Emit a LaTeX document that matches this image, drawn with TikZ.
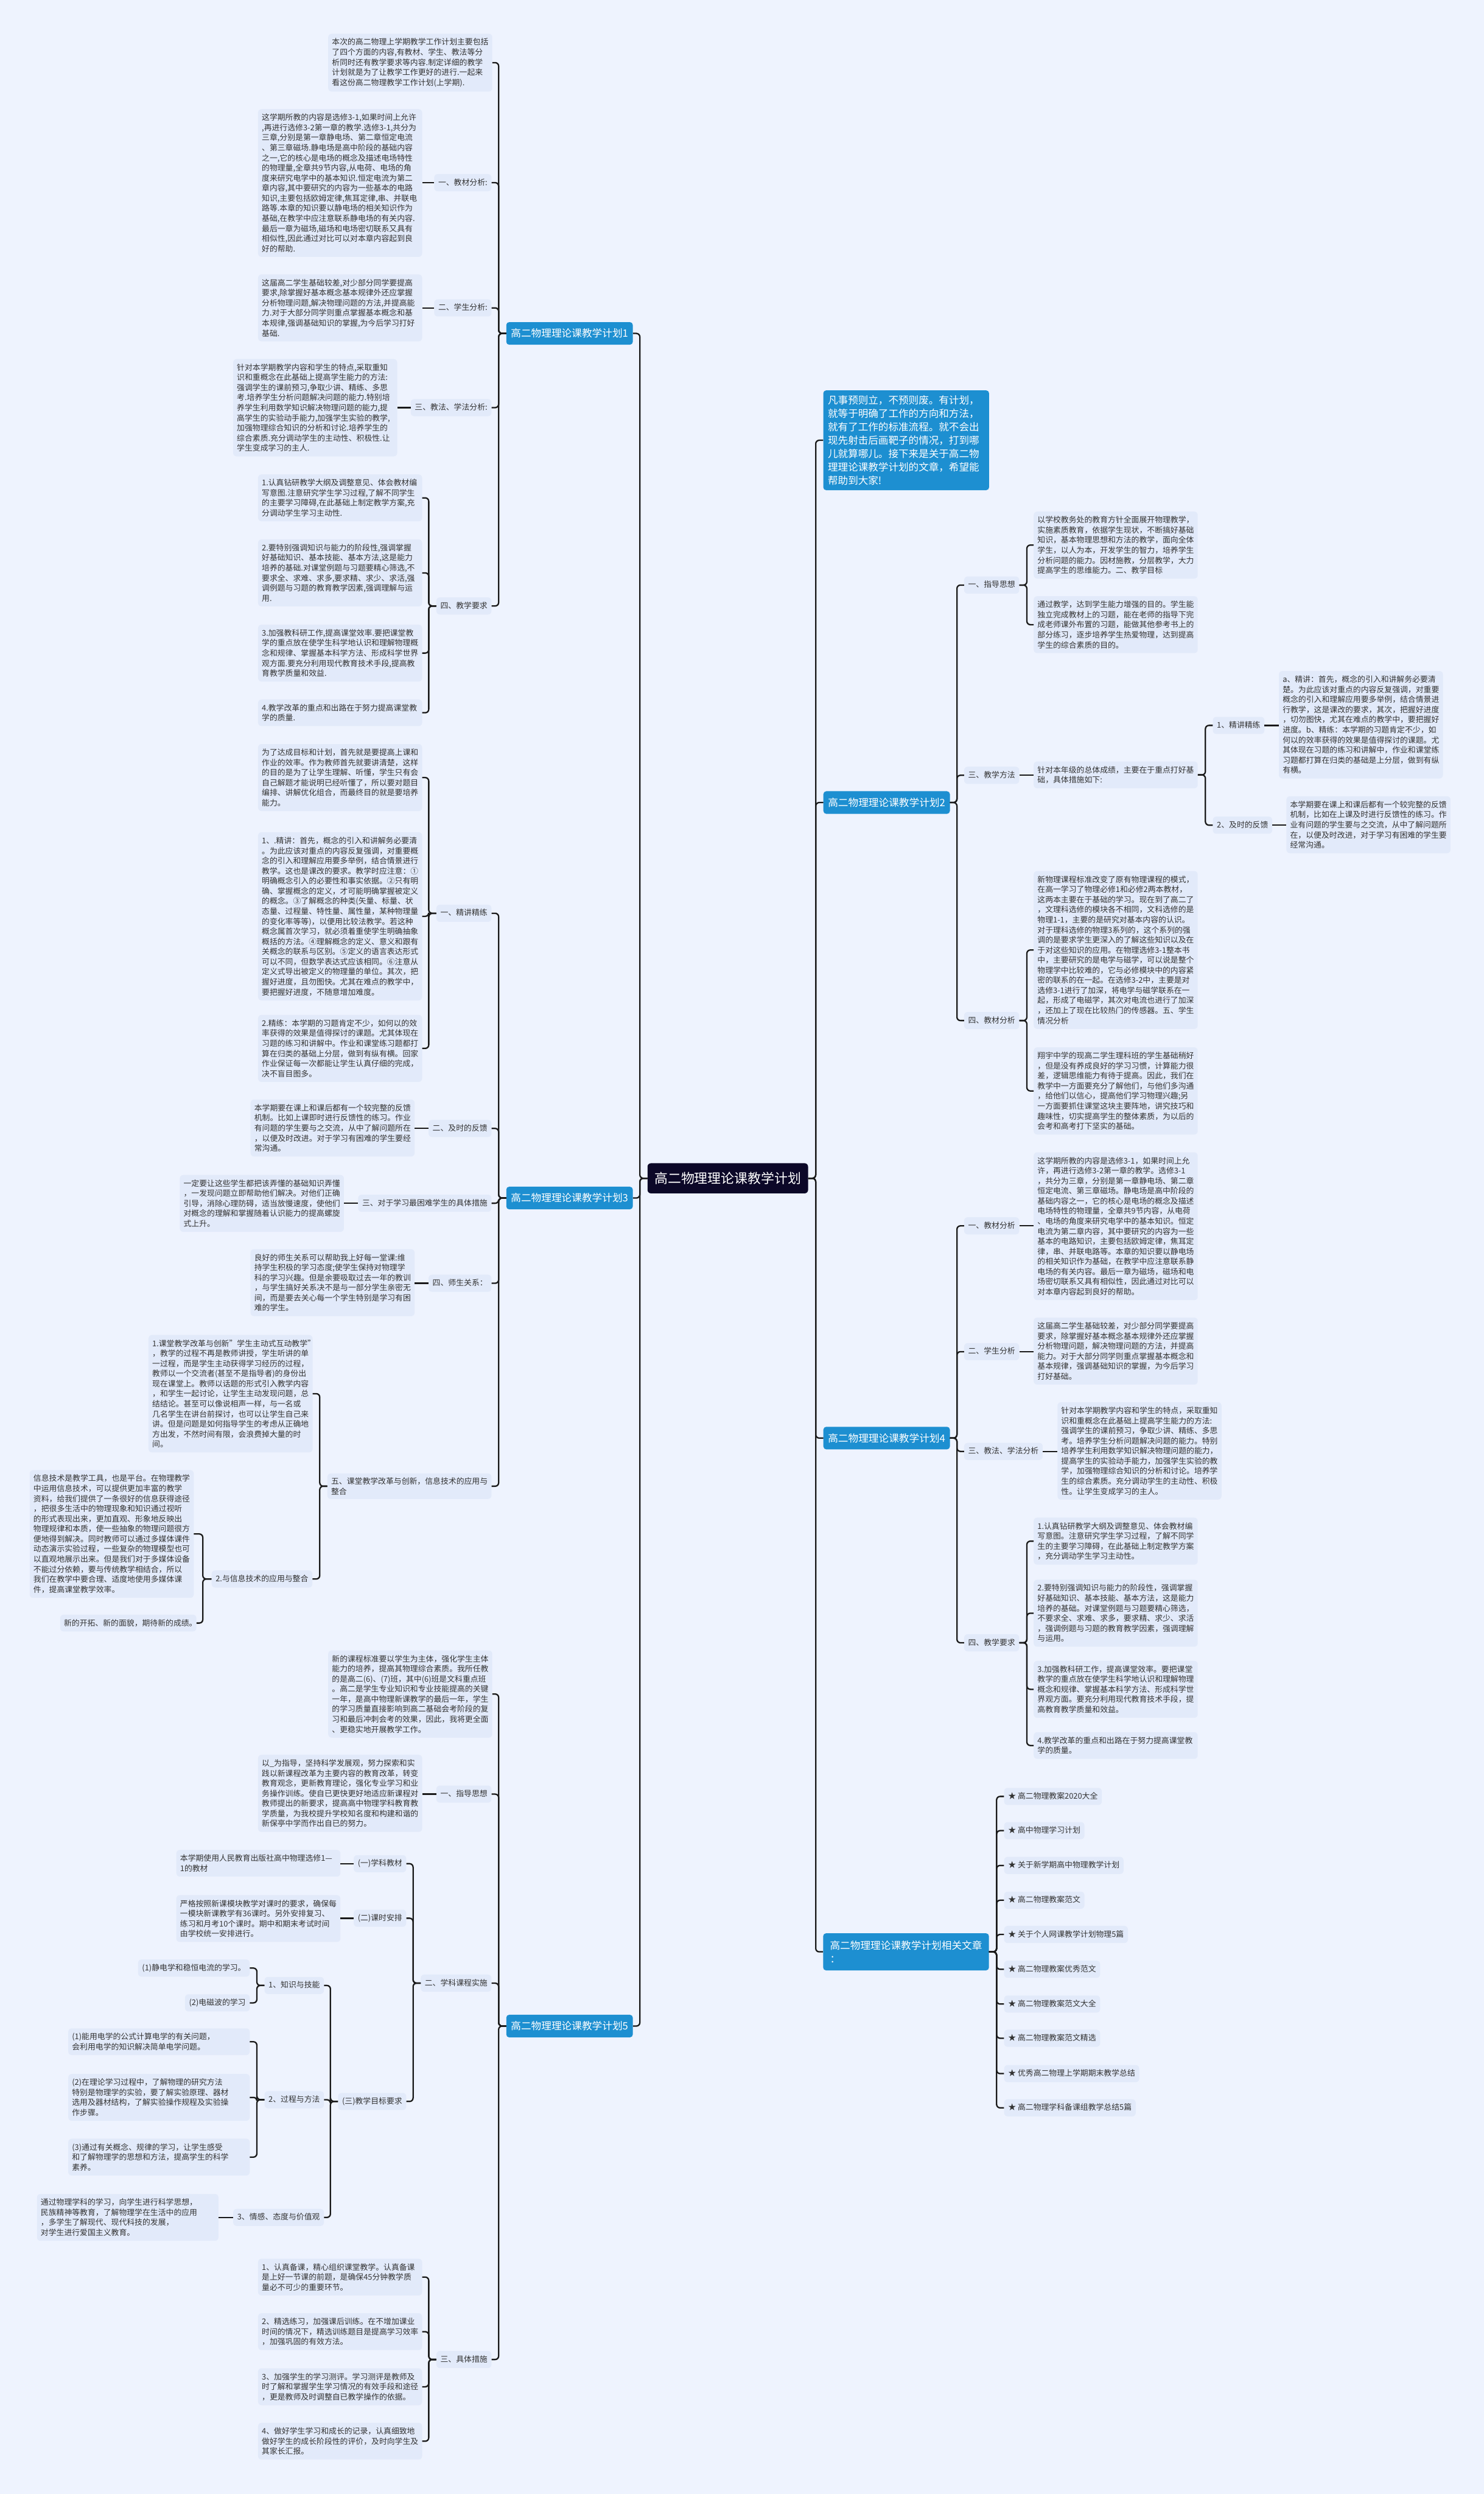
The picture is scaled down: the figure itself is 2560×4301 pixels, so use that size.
\documentclass[tikz,border=0pt]{standalone}
\usepackage{fontspec}
\setmainfont{Noto Sans CJK SC}
\definecolor{bgc}{HTML}{EEF3FE}
\definecolor{boxc}{HTML}{E2EAFA}
\definecolor{mainc}{HTML}{1D8FD1}
\definecolor{rootc}{HTML}{0C0828}
\definecolor{txtc}{HTML}{333333}
\definecolor{linec}{HTML}{1A1A1A}
\newcommand\myfs{\fontsize{13.5pt}{17.4pt}\selectfont}
\tikzset{
  blk/.style={fill=boxc, rounded corners=6pt, inner xsep=6.5pt, inner ysep=8pt, align=left, text=txtc, font=\myfs, anchor=north west, text width=270pt},
  lab/.style={fill=boxc, rounded corners=6pt, inner xsep=7pt, inner ysep=8pt, text=txtc, font=\myfs, text height=11pt, text depth=2.5pt},
  mainn/.style={fill=mainc, rounded corners=5pt, text=white, font=\fontsize{17.5pt}{23pt}\selectfont, inner xsep=8pt, inner ysep=4pt, minimum height=39pt, minimum width=217pt},
  rootn/.style={fill=rootc, rounded corners=6pt, text=white, font=\fontsize{23pt}{28pt}\selectfont, minimum width=277pt, minimum height=52pt, inner sep=4pt},
  conn/.style={draw=linec, line width=2.4pt, rounded corners=6pt},
}
\begin{document}
\begin{tikzpicture}[x=1pt,y=-1pt]
\fill[bgc] (0,0) rectangle (2560,4301);
\useasboundingbox (0,0) rectangle (2560,4301);

% ---------- root ----------
\node[rootn] (root) at (1255.5,2032) {高二物理理论课教学计划};

% ---------- main nodes ----------
\node[mainn] (p1) at (982.5,575) {高二物理理论课教学计划1};
\node[mainn] (p3) at (982.5,2066) {高二物理理论课教学计划3};
\node[mainn] (p5) at (982.5,3494) {高二物理理论课教学计划5};
\node[fill=mainc, rounded corners=5pt, text=white, font=\fontsize{17.4pt}{23pt}\selectfont, inner xsep=8pt, inner ysep=9pt, align=left, text width=270pt, anchor=north west] (intro) at (1420,673) {凡事预则立，不预则废。有计划，\\就等于明确了工作的方向和方法，\\就有了工作的标准流程。就不会出\\现先射击后画靶子的情况，打到哪\\儿就算哪儿。接下来是关于高二物\\理理论课教学计划的文章，希望能\\帮助到大家!};
\node[mainn] (p2) at (1529.5,1384) {高二物理理论课教学计划2};
\node[mainn] (p4) at (1529.5,2480) {高二物理理论课教学计划4};
\node[mainn, align=left, minimum width=286pt, minimum height=64pt] (rel) at (1563,3366) {高二物理理论课教学计划相关文章\\：};

\foreach \c in {p1,p3,p5} \draw[conn] (root.west) -- ++(-13,0) |- (\c.east);
\foreach \c in {intro,p2,p4,rel} \draw[conn] (root.east) -- ++(13,0) |- (\c.west);

% ================= PLAN 1 =================
\node[blk] (t1) at (566,58) {本次的高二物理上学期教学工作计划主要包括\\了四个方面的内容,有教材、学生、教法等分\\析同时还有教学要求等内容.制定详细的教学\\计划就是为了让教学工作更好的进行.一起来\\看这份高二物理教学工作计划(上学期).};
\node[lab, anchor=east] (l11) at (848,315) {一、教材分析:};
\node[lab, anchor=east] (l12) at (848,531) {二、学生分析:};
\node[lab, anchor=east] (l13) at (848,703) {三、教法、学法分析:};
\node[lab, anchor=east] (l14) at (848,1045) {四、教学要求};
\foreach \c in {t1,l11,l12,l13,l14} \draw[conn] (p1.west) -- ++(-13,0) |- (\c.east);

\node[blk] (b11) at (445,188) {这学期所教的内容是选修3-1,如果时间上允许\\,再进行选修3-2第一章的教学.选修3-1,共分为\\三章,分别是第一章静电场、第二章恒定电流\\、第三章磁场.静电场是高中阶段的基础内容\\之一,它的核心是电场的概念及描述电场特性\\的物理量,全章共9节内容,从电荷、电场的角\\度来研究电学中的基本知识.恒定电流为第二\\章内容,其中要研究的内容为一些基本的电路\\知识,主要包括欧姆定律,焦耳定律,串、并联电\\路等.本章的知识要以静电场的相关知识作为\\基础,在教学中应注意联系静电场的有关内容.\\最后一章为磁场,磁场和电场密切联系又具有\\相似性,因此通过对比可以对本章内容起到良\\好的帮助.};
\node[blk] (b12) at (445,473) {这届高二学生基础较差,对少部分同学要提高\\要求,除掌握好基本概念基本规律外还应掌握\\分析物理问题,解决物理问题的方法,并提高能\\力.对于大部分同学则重点掌握基本概念和基\\本规律,强调基础知识的掌握,为今后学习打好\\基础.};
\node[blk] (b13) at (402,619) {针对本学期教学内容和学生的特点,采取重知\\识和重概念在此基础上提高学生能力的方法:\\强调学生的课前预习,争取少讲、精练、多思\\考.培养学生分析问题解决问题的能力.特别培\\养学生利用数学知识解决物理问题的能力,提\\高学生的实验动手能力,加强学生实验的教学,\\加强物理综合知识的分析和讨论.培养学生的\\综合素质.充分调动学生的主动性、积极性.让\\学生变成学习的主人.};
\draw[conn] (l11.west) -- (b11.east |- l11.west);
\draw[conn] (l12.west) -- (b12.east |- l12.west);
\draw[conn] (l13.west) -- (b13.east |- l13.west);

\node[blk] (b141) at (445,818) {1.认真钻研教学大纲及调整意见、体会教材编\\写意图.注意研究学生学习过程,了解不同学生\\的主要学习障碍,在此基础上制定教学方案,充\\分调动学生学习主动性.};
\node[blk] (b142) at (445,930) {2.要特别强调知识与能力的阶段性,强调掌握\\好基础知识、基本技能、基本方法,这是能力\\培养的基础.对课堂例题与习题要精心筛选,不\\要求全、求难、求多,要求精、求少、求活,强\\调例题与习题的教育教学因素,强调理解与运\\用.};
\node[blk] (b143) at (445,1077) {3.加强教科研工作,提高课堂效率.要把课堂教\\学的重点放在使学生科学地认识和理解物理概\\念和规律、掌握基本科学方法、形成科学世界\\观方面.要充分利用现代教育技术手段,提高教\\育教学质量和效益.};
\node[blk] (b144) at (445,1206) {4.教学改革的重点和出路在于努力提高课堂教\\学的质量.};
\foreach \c in {b141,b142,b143,b144} \draw[conn] (l14.west) -- ++(-13,0) |- (\c.east);

% ================= PLAN 3 =================
\node[lab, anchor=east] (l31) at (848,1575) {一、精讲精练};
\node[lab, anchor=east] (l32) at (848,1946) {二、及时的反馈};
\node[lab, anchor=east] (l33) at (848,2075) {三、对于学习最困难学生的具体措施};
\node[lab, anchor=east] (l34) at (848,2213) {四、师生关系：};
\node[fill=boxc, rounded corners=6pt, inner xsep=6.5pt, inner ysep=7pt, text=txtc, font=\myfs, align=left, text width=270pt, anchor=east] (l35) at (848,2563) {五、课堂教学改革与创新，信息技术的应用与\\整合};
\foreach \c in {l31,l32,l33,l34,l35} \draw[conn] (p3.west) -- ++(-13,0) |- (\c.east);

\node[blk] (b311) at (445,1283) {为了达成目标和计划，首先就是要提高上课和\\作业的效率。作为教师首先就要讲清楚，这样\\的目的是为了让学生理解、听懂，学生只有会\\自己解题才能说明已经听懂了，所以要对题目\\编排、讲解优化组合，而最终目的就是要培养\\能力。};
\node[blk] (b312) at (445,1435) {1、.精讲：首先，概念的引入和讲解务必要清\\。为此应该对重点的内容反复强调，对重要概\\念的引入和理解应用要多举例，结合情景进行\\教学。这也是课改的要求。教学时应注意：①\\明确概念引入的必要性和事实依据。②只有明\\确、掌握概念的定义，才可能明确掌握被定义\\的概念。③了解概念的种类(矢量、标量、状\\态量、过程量、特性量、属性量，某种物理量\\的变化率等等)，以便用比较法教学。若这种\\概念属首次学习，就必须着重使学生明确抽象\\概括的方法。④理解概念的定义、意义和跟有\\关概念的联系与区别。⑤定义的语言表达形式\\可以不同，但数学表达式应该相同。⑥注意从\\定义式导出被定义的物理量的单位。其次，把\\握好进度，且勿图快。尤其在难点的教学中，\\要把握好进度，不随意增加难度。};
\node[blk] (b313) at (445,1750) {2.精练：本学期的习题肯定不少，如何以的效\\率获得的效果是值得探讨的课题。尤其体现在\\习题的练习和讲解中。作业和课堂练习题都打\\算在归类的基础上分层，做到有纵有横。回家\\作业保证每一次都能让学生认真仔细的完成，\\决不盲目图多。};
\foreach \c in {b311,b312,b313} \draw[conn] (l31.west) -- ++(-13,0) |- (\c.east);

\node[blk] (b32) at (432,1896) {本学期要在课上和课后都有一个较完整的反馈\\机制。比如上课即时进行反馈性的练习。作业\\有问题的学生要与之交流，从中了解问题所在\\，以便及时改进。对于学习有困难的学生要经\\常沟通。};
\node[blk] (b33) at (310,2026) {一定要让这些学生都把该弄懂的基础知识弄懂\\，一发现问题立即帮助他们解决。对他们正确\\引导，消除心理防碍，适当放慢速度，使他们\\对概念的理解和掌握随着认识能力的提高螺旋\\式上升。};
\node[blk] (b34) at (432,2154) {良好的师生关系可以帮助我上好每一堂课:维\\持学生积极的学习态度;使学生保持对物理学\\科的学习兴趣。但是余要吸取过去一年的教训\\，与学生搞好关系决不是与一部分学生亲密无\\间，而是要去关心每一个学生特别是学习有困\\难的学生。};
\draw[conn] (l32.west) -- (b32.east |- l32.west);
\draw[conn] (l33.west) -- (b33.east |- l33.west);
\draw[conn] (l34.west) -- (b34.east |- l34.west);

\node[blk] (b351) at (256,2302) {1.课堂教学改革与创新"学生主动式互动教学"\\，教学的过程不再是教师讲授，学生听讲的单\\一过程，而是学生主动获得学习经历的过程，\\教师以一个交流者(甚至不是指导者)的身份出\\现在课堂上。教师以话题的形式引入教学内容\\，和学生一起讨论，让学生主动发现问题，总\\结结论。甚至可以像说相声一样，与一名或\\几名学生在讲台前探讨，也可以让学生自己来\\讲。但是问题是如何指导学生的考虑从正确地\\方出发，不然时间有限，会浪费掉大量的时\\间。};
\node[lab, anchor=east] (l352) at (539,2723) {2.与信息技术的应用与整合};
\foreach \c in {b351,l352} \draw[conn] (l35.west) -- ++(-13,0) |- (\c.east);

\node[blk] (b3521) at (51,2535) {信息技术是教学工具，也是平台。在物理教学\\中运用信息技术，可以提供更加丰富的教学\\资料，给我们提供了一条很好的信息获得途径\\，把很多生活中的物理现象和知识通过视听\\的形式表现出来，更加直观、形象地反映出\\物理规律和本质，使一些抽象的物理问题很方\\便地得到解决。同时教师可以通过多媒体课件\\动态演示实验过程，一些复杂的物理模型也可\\以直观地展示出来。但是我们对于多媒体设备\\不能过分依赖，要与传统教学相结合，所以\\我们在教学中要合理、适度地使用多媒体课\\件，提高课堂教学效率。};
\node[blk, anchor=east, text width=222pt] (b3522) at (339,2799) {新的开拓、新的面貌，期待新的成绩。};
\foreach \c in {b3521,b3522} \draw[conn] (l352.west) -- ++(-15,0) |- (\c.east);

% ================= PLAN 5 =================
\node[blk] (t5) at (566,2846) {新的课程标准要以学生为主体，强化学生主体\\能力的培养，提高其物理综合素质。我所任教\\的是高二(6)、(7)班，其中(6)班是文科重点班\\。高二是学生专业知识和专业技能提高的关键\\一年，是高中物理新课教学的最后一年，学生\\的学习质量直接影响到高二基础会考阶段的复\\习和最后冲刺会考的效果，因此，我将更全面\\、更稳实地开展教学工作。};
\node[lab, anchor=east] (l51) at (848,3094) {一、指导思想};
\node[lab, anchor=east] (l52) at (848,3420) {二、学科课程实施};
\node[lab, anchor=east] (l53) at (848,4069) {三、具体措施};
\foreach \c in {t5,l51,l52,l53} \draw[conn] (p5.west) -- ++(-13,0) |- (\c.east);

\node[blk] (b51) at (445,3026) {以\_为指导，坚持科学发展观，努力探索和实\\践以新课程改革为主要内容的教育改革，转变\\教育观念，更新教育理论，强化专业学习和业\\务操作训练。使自已更快更好地适应新课程对\\教师提出的新要求，提高高中物理学科教育教\\学质量，为我校提升学校知名度和构建和谐的\\新保亭中学而作出自已的努力。};
\draw[conn] (l51.west) -- (b51.east |- l51.west);

\node[lab, anchor=east] (l521) at (701,3214) {(一)学科教材};
\node[lab, anchor=east] (l522) at (701,3308) {(二)课时安排};
\node[lab, anchor=east] (l523) at (701,3624) {(三)教学目标要求};
\foreach \c in {l521,l522,l523} \draw[conn] (l52.west) -- ++(-13,0) |- (\c.east);

\node[blk] (b521) at (304,3190) {本学期使用人民教育出版社高中物理选修1—\\1的教材};
\node[blk] (b522) at (304,3268) {严格按照新课模块教学对课时的要求，确保每\\一模块新课教学有36课时。另外安排复习、\\练习和月考10个课时。期中和期末考试时间\\由学校统一安排进行。};
\draw[conn] (l521.west) -- (b521.east |- l521.west);
\draw[conn] (l522.west) -- (b522.east |- l522.west);

\node[lab, anchor=east] (l5231) at (559,3424) {1、知识与技能};
\node[lab, anchor=east] (l5232) at (559,3621) {2、过程与方法};
\node[lab, anchor=east] (l5233) at (559,3824) {3、情感、态度与价值观};
\foreach \c in {l5231,l5232,l5233} \draw[conn] (l523.west) -- ++(-13,0) |- (\c.east);

\node[lab, anchor=east] (k1) at (431,3394) {(1)静电学和稳恒电流的学习。};
\node[lab, anchor=east] (k2) at (431,3454) {(2)电磁波的学习};
\foreach \c in {k1,k2} \draw[conn] (l5231.west) -- ++(-13,0) |- (\c.east);

\node[blk, anchor=east, text width=300pt] (m1) at (431,3521) {(1)能用电学的公式计算电学的有关问题，\\会利用电学的知识解决简单电学问题。};
\node[blk, anchor=east, text width=300pt] (m2) at (431,3617) {(2)在理论学习过程中，了解物理的研究方法\\特别是物理学的实验，要了解实验原理、器材\\选用及器材结构，了解实验操作规程及实验操\\作步骤。};
\node[blk, anchor=east, text width=300pt] (m3) at (431,3720) {(3)通过有关概念、规律的学习，让学生感受\\和了解物理学的思想和方法，提高学生的科学\\素养。};
\foreach \c in {m1,m2,m3} \draw[conn] (l5232.west) -- ++(-13,0) |- (\c.east);

\node[blk, anchor=east, text width=300pt] (n1) at (377,3824) {通过物理学科的学习，向学生进行科学思想，\\民族精神等教育，了解物理学在生活中的应用\\，多学生了解现代、现代科技的发展，\\对学生进行爱国主义教育。};
\draw[conn] (l5233.west) -- (n1.east |- l5233.west);

\node[blk] (b531) at (445,3895) {1、认真备课，精心组织课堂教学。认真备课\\是上好一节课的前题，是确保45分钟教学质\\量必不可少的重要环节。};
\node[blk] (b532) at (445,3989) {2、精选练习，加强课后训练。在不增加课业\\时间的情况下，精选训练题目是提高学习效率\\，加强巩固的有效方法。};
\node[blk] (b533) at (445,4084) {3、加强学生的学习测评。学习测评是教师及\\时了解和掌握学生学习情况的有效手段和途径\\，更是教师及时调整自已教学操作的依据。};
\node[blk] (b534) at (445,4178) {4、做好学生学习和成长的记录，认真细致地\\做好学生的成长阶段性的评价，及时向学生及\\其家长汇报。};
\foreach \c in {b531,b532,b533,b534} \draw[conn] (l53.west) -- ++(-13,0) |- (\c.east);

% ================= PLAN 2 =================
\node[lab, anchor=west] (l21) at (1663,1009) {一、指导思想};
\node[lab, anchor=west] (l23) at (1663,1337) {三、教学方法};
\node[lab, anchor=west] (l24) at (1663,1760) {四、教材分析};
\foreach \c in {l21,l23,l24} \draw[conn] (p2.east) -- ++(12,0) |- (\c.west);

\node[blk] (b211) at (1783,882) {以学校教务处的教育方针全面展开物理教学，\\实施素质教育，依据学生现状，不断搞好基础\\知识，基本物理思想和方法的教学，面向全体\\学生，以人为本，开发学生的智力，培养学生\\分析问题的能力。因材施教，分层教学，大力\\提高学生的思维能力。二、教学目标};
\node[blk] (b212) at (1783,1028) {通过教学，达到学生能力增强的目的。学生能\\独立完成教材上的习题，能在老师的指导下完\\成老师课外布置的习题，能做其他参考书上的\\部分练习，逐步培养学生热爱物理，达到提高\\学生的综合素质的目的。};
\foreach \c in {b211,b212} \draw[conn] (l21.east) -- ++(13,0) |- (\c.west);

\node[blk] (b23) at (1783,1313) {针对本年级的总体成绩，主要在于重点打好基\\础，具体措施如下:};
\draw[conn] (l23.east) -- (b23.west |- l23.east);
\node[lab, anchor=west] (l231) at (2092,1251) {1、精讲精练};
\node[lab, anchor=west] (l232) at (2092,1423) {2、及时的反馈};
\foreach \c in {l231,l232} \draw[conn] (b23.east) -- ++(13,0) |- (\c.west);
\node[blk] (b231) at (2206,1157) {a、精讲：首先，概念的引入和讲解务必要清\\楚。为此应该对重点的内容反复强调，对重要\\概念的引入和理解应用要多举例，结合情景进\\行教学，这是课改的要求，其次，把握好进度\\，切勿图快，尤其在难点的教学中，要把握好\\进度。b、精练：本学期的习题肯定不少，如\\何以的效率获得的效果是值得探讨的课题。尤\\其体现在习题的练习和讲解中，作业和课堂练\\习题都打算在归类的基础是上分层，做到有纵\\有横。};
\node[blk] (b232) at (2219,1373) {本学期要在课上和课后都有一个较完整的反馈\\机制，比如在上课及时进行反馈性的练习。作\\业有问题的学生要与之交流，从中了解问题所\\在，以便及时改进，对于学习有困难的学生要\\经常沟通。};
\draw[conn] (l231.east) -- (b231.west |- l231.east);
\draw[conn] (l232.east) -- (b232.west |- l232.east);

\node[blk] (b241) at (1783,1502) {新物理课程标准改变了原有物理课程的模式，\\在高一学习了物理必修1和必修2两本教材，\\这两本主要在于基础的学习。现在到了高二了\\，文理科选修的模块各不相同，文科选修的是\\物理1-1，主要的是研究对基本内容的认识。\\对于理科选修的物理3系列的，这个系列的强\\调的是要求学生更深入的了解这些知识以及在\\于对这些知识的应用。在物理选修3-1整本书\\中，主要研究的是电学与磁学，可以说是整个\\物理学中比较难的，它与必修模块中的内容紧\\密的联系的在一起。在选修3-2中，主要是对\\选修3-1进行了加深，将电学与磁学联系在一\\起，形成了电磁学，其次对电流也进行了加深\\，还加上了现在比较热门的传感器。五、学生\\情况分析};
\node[blk] (b242) at (1783,1806) {翔宇中学的现高二学生理科班的学生基础稍好\\，但是没有养成良好的学习习惯，计算能力很\\差，逻辑思维能力有待于提高。因此，我们在\\教学中一方面要充分了解他们，与他们多沟通\\，给他们以信心，提高他们学习物理兴趣;另\\一方面要抓住课堂这块主要阵地，讲究技巧和\\趣味性，切实提高学生的整体素质，为以后的\\会考和高考打下坚实的基础。};
\foreach \c in {b241,b242} \draw[conn] (l24.east) -- ++(13,0) |- (\c.west);

% ================= PLAN 4 =================
\node[lab, anchor=west] (l41) at (1663,2114) {一、教材分析};
\node[lab, anchor=west] (l42) at (1663,2331) {二、学生分析};
\node[lab, anchor=west] (l43) at (1663,2503) {三、教法、学法分析};
\node[lab, anchor=west] (l44) at (1663,2833) {四、教学要求};
\foreach \c in {l41,l42,l43,l44} \draw[conn] (p4.east) -- ++(12,0) |- (\c.west);

\node[blk] (b41) at (1783,1987) {这学期所教的内容是选修3-1，如果时间上允\\许，再进行选修3-2第一章的教学。选修3-1\\，共分为三章，分别是第一章静电场、第二章\\恒定电流、第三章磁场。静电场是高中阶段的\\基础内容之一，它的核心是电场的概念及描述\\电场特性的物理量，全章共9节内容，从电荷\\、电场的角度来研究电学中的基本知识。恒定\\电流为第二章内容，其中要研究的内容为一些\\基本的电路知识，主要包括欧姆定律，焦耳定\\律，串、并联电路等。本章的知识要以静电场\\的相关知识作为基础，在教学中应注意联系静\\电场的有关内容。最后一章为磁场，磁场和电\\场密切联系又具有相似性，因此通过对比可以\\对本章内容起到良好的帮助。};
\node[blk] (b42) at (1783,2272) {这届高二学生基础较差，对少部分同学要提高\\要求，除掌握好基本概念基本规律外还应掌握\\分析物理问题，解决物理问题的方法，并提高\\能力。对于大部分同学则重点掌握基本概念和\\基本规律，强调基础知识的掌握，为今后学习\\打好基础。};
\node[blk] (b43) at (1824,2418) {针对本学期教学内容和学生的特点，采取重知\\识和重概念在此基础上提高学生能力的方法:\\强调学生的课前预习，争取少讲、精练、多思\\考。培养学生分析问题解决问题的能力。特别\\培养学生利用数学知识解决物理问题的能力，\\提高学生的实验动手能力，加强学生实验的教\\学，加强物理综合知识的分析和讨论。培养学\\生的综合素质。充分调动学生的主动性、积极\\性。让学生变成学习的主人。};
\draw[conn] (l41.east) -- (b41.west |- l41.east);
\draw[conn] (l42.east) -- (b42.west |- l42.east);
\draw[conn] (l43.east) -- (b43.west |- l43.east);

\node[blk] (b441) at (1783,2617) {1.认真钻研教学大纲及调整意见、体会教材编\\写意图。注意研究学生学习过程，了解不同学\\生的主要学习障碍，在此基础上制定教学方案\\，充分调动学生学习主动性。};
\node[blk] (b442) at (1783,2724) {2.要特别强调知识与能力的阶段性，强调掌握\\好基础知识、基本技能、基本方法，这是能力\\培养的基础。对课堂例题与习题要精心筛选，\\不要求全、求难、求多，要求精、求少、求活\\，强调例题与习题的教育教学因素，强调理解\\与运用。};
\node[blk] (b443) at (1783,2864) {3.加强教科研工作，提高课堂效率。要把课堂\\教学的重点放在使学生科学地认识和理解物理\\概念和规律、掌握基本科学方法、形成科学世\\界观方面。要充分利用现代教育技术手段，提\\高教育教学质量和效益。};
\node[blk] (b444) at (1783,2987) {4.教学改革的重点和出路在于努力提高课堂教\\学的质量。};
\foreach \c in {b441,b442,b443,b444} \draw[conn] (l44.east) -- ++(13,0) |- (\c.west);

% ================= RELATED =================
\node[lab, anchor=west] (r1) at (1732,3098) {★ 高二物理教案2020大全};
\node[lab, anchor=west] (r2) at (1732,3157) {★ 高中物理学习计划};
\node[lab, anchor=west] (r3) at (1732,3217) {★ 关于新学期高中物理教学计划};
\node[lab, anchor=west] (r4) at (1732,3277) {★ 高二物理教案范文};
\node[lab, anchor=west] (r5) at (1732,3336) {★ 关于个人网课教学计划物理5篇};
\node[lab, anchor=west] (r6) at (1732,3396) {★ 高二物理教案优秀范文};
\node[lab, anchor=west] (r7) at (1732,3456) {★ 高二物理教案范文大全};
\node[lab, anchor=west] (r8) at (1732,3515) {★ 高二物理教案范文精选};
\node[lab, anchor=west] (r9) at (1732,3576) {★ 优秀高二物理上学期期末教学总结};
\node[lab, anchor=west] (r10) at (1732,3635) {★ 高二物理学科备课组教学总结5篇};
\foreach \c in {r1,r2,r3,r4,r5,r6,r7,r8,r9,r10} \draw[conn] (rel.east) -- ++(13,0) |- (\c.west);

\end{tikzpicture}
\end{document}
